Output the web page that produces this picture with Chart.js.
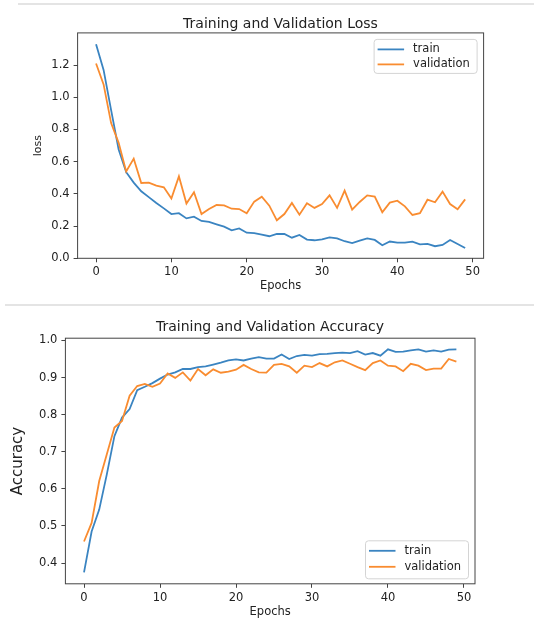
<!DOCTYPE html>
<html>
<head>
<meta charset="utf-8">
<script src="https://cdn.jsdelivr.net/npm/chart.js@4.4.0/dist/chart.umd.min.js"></script>
<style>
  html, body { margin: 0; padding: 0; background: #fff; overflow: hidden; width: 534px; height: 618px; }
  .sep { position: absolute; height: 2px; background: #e4e4e4; right: 0; }
  canvas { position: absolute; left: 0; }
</style>
</head>
<body>
<div class="sep" style="top:3px;left:18px"></div>
<div class="sep" style="top:304px;left:5px"></div>
<canvas id="loss" width="561" height="300" style="top:0"></canvas>
<canvas id="acc" width="540" height="330" style="top:300px"></canvas>
<script>
const epochs = [0,1,2,3,4,5,6,7,8,9,10,11,12,13,14,15,16,17,18,19,20,21,22,23,24,
  25,26,27,28,29,30,31,32,33,34,35,36,37,38,39,40,41,42,43,44,45,46,47,48,49];

const trainLoss = [1.33,1.17,0.92,0.675,0.535,0.47,0.416,0.38,0.344,0.31,0.275,0.28,0.248,0.259,0.232,
  0.226,0.211,0.197,0.174,0.186,0.159,0.157,0.147,0.137,0.151,0.151,0.128,0.145,0.116,0.112,
  0.118,0.13,0.124,0.106,0.095,0.11,0.124,0.114,0.081,0.104,0.097,0.097,0.104,0.087,0.089,
  0.075,0.083,0.114,0.089,0.064];
const valLoss = [1.21,1.08,0.84,0.717,0.54,0.619,0.468,0.47,0.451,0.441,0.371,0.509,0.34,0.41,0.275,
  0.306,0.331,0.329,0.308,0.306,0.28,0.352,0.383,0.327,0.236,0.275,0.344,0.271,0.342,0.313,
  0.337,0.391,0.313,0.42,0.302,0.35,0.391,0.383,0.286,0.346,0.358,0.323,0.269,0.28,0.364,
  0.348,0.414,0.337,0.304,0.366];

const trainAcc = [0.375,0.485,0.544,0.639,0.742,0.792,0.815,0.866,0.875,0.885,0.897,0.908,0.914,0.923,0.923,
  0.928,0.93,0.935,0.94,0.946,0.949,0.946,0.951,0.955,0.951,0.951,0.962,0.95,0.958,0.961,
  0.959,0.963,0.964,0.966,0.967,0.966,0.971,0.962,0.966,0.959,0.976,0.969,0.97,0.973,0.976,
  0.97,0.973,0.97,0.975,0.976];
const valAcc = [0.458,0.508,0.621,0.693,0.765,0.783,0.851,0.877,0.883,0.875,0.884,0.911,0.899,0.914,0.892,
  0.923,0.906,0.922,0.913,0.916,0.921,0.934,0.923,0.914,0.913,0.934,0.937,0.93,0.913,0.932,
  0.928,0.939,0.93,0.941,0.946,0.937,0.928,0.92,0.939,0.946,0.932,0.93,0.917,0.937,0.932,
  0.92,0.924,0.924,0.95,0.943];

const xTicks = [0, 10, 20, 30, 40, 50];
const lossTicks = [0.0, 0.2, 0.4, 0.6, 0.8, 1.0, 1.2];
const accTicks = [0.4, 0.5, 0.6, 0.7, 0.8, 0.9, 1.0];
const seriesNames = ['train', 'validation'];

const BLUE = '#3a84c1';
const ORANGE = '#f98c30';
const TXT = '#222';
const SPINE = '#444';
const FONT = "'DejaVu Sans', sans-serif";
const LW = 1.8;

const pts = arr => arr.map((v, i) => ({ x: epochs[i], y: v }));

// full box round the plot area, like matplotlib spines
const frame = {
  id: 'frame',
  afterDatasetsDraw(chart) {
    const { ctx, chartArea: a } = chart;
    ctx.save();
    ctx.strokeStyle = SPINE;
    ctx.lineWidth = 1;
    ctx.strokeRect(a.left, a.top, a.right - a.left, a.bottom - a.top);
    ctx.restore();
  }
};

// matplotlib style legend box drawn inside the axes
const boxLegend = {
  id: 'boxLegend',
  afterDraw(chart, args, opts) {
    const { ctx, chartArea: a } = chart;
    const w = 103, h = opts.h;
    const x = a.right - 6.5 - w;
    const y = opts.corner === 'bottom' ? a.bottom - 5 - h : a.top + 6.5;
    ctx.save();
    ctx.beginPath();
    ctx.roundRect(x, y, w, h, 3);
    ctx.fillStyle = 'rgba(255,255,255,0.85)';
    ctx.fill();
    ctx.strokeStyle = '#d4d4d4';
    ctx.lineWidth = 1;
    ctx.stroke();
    ctx.font = '11.5px ' + FONT;
    ctx.textBaseline = 'middle';
    chart.data.datasets.forEach((ds, i) => {
      const ry = y + 10 + i * opts.gap;
      ctx.strokeStyle = ds.borderColor;
      ctx.lineWidth = LW;
      ctx.beginPath();
      ctx.moveTo(x + 3.5, ry);
      ctx.lineTo(x + 30, ry);
      ctx.stroke();
      ctx.fillStyle = TXT;
      ctx.fillText(ds.label, x + 39, ry);
    });
    ctx.restore();
  }
};

function makeChart(id, cfg) {
  return new Chart(document.getElementById(id), {
    type: 'line',
    data: {
      datasets: [
        { label: seriesNames[0], data: pts(cfg.train), borderColor: BLUE, backgroundColor: BLUE,
          borderWidth: LW, pointRadius: 0, tension: 0, order: 1 },
        { label: seriesNames[1], data: pts(cfg.val), borderColor: ORANGE, backgroundColor: ORANGE,
          borderWidth: LW, pointRadius: 0, tension: 0, order: 0 }
      ]
    },
    options: {
      responsive: false,
      animation: false,
      layout: { padding: 0 },
      plugins: {
        legend: { display: false },
        tooltip: { enabled: false },
        title: {
          display: true,
          text: cfg.title,
          color: TXT,
          font: { family: FONT, size: 14, weight: 'normal' },
          padding: cfg.titlePad
        },
        boxLegend: cfg.legend
      },
      scales: {
        x: {
          type: 'linear',
          min: -2.45,
          max: 51.45,
          afterBuildTicks: s => { s.ticks = xTicks.map(v => ({ value: v })); },
          afterFit: s => { s.height = cfg.xHeight; },
          grid: { display: true, drawOnChartArea: false, drawTicks: true, tickLength: 4, color: SPINE },
          border: { display: false },
          ticks: { color: TXT, font: { family: FONT, size: 11.5 }, padding: 3, maxRotation: 0,
                   callback: v => String(v) },
          title: { display: true, text: 'Epochs', color: TXT,
                   font: { family: FONT, size: 11.5 }, padding: { top: 0, bottom: cfg.xTitlePad } }
        },
        y: {
          min: cfg.yMin,
          max: cfg.yMax,
          afterBuildTicks: s => { s.ticks = cfg.yTicks.map(v => ({ value: v })); },
          afterFit: s => { s.width = cfg.yWidth; },
          grid: { display: true, drawOnChartArea: false, drawTicks: true, tickLength: 4, color: SPINE },
          border: { display: false },
          ticks: { color: TXT, font: { family: FONT, size: 11.5 }, padding: 4,
                   callback: v => v.toFixed(1) },
          title: { display: true, text: cfg.yTitle, color: TXT,
                   font: { family: FONT, size: cfg.yTitleSize }, padding: { top: cfg.yTitlePad, bottom: 0 } }
        },
        // empty right axis, only keeps the title centred over the plot area
        pad: {
          position: 'right',
          display: true,
          grid: { display: false },
          border: { display: false },
          ticks: { display: false },
          afterFit: s => { s.width = cfg.rightPad; }
        }
      }
    },
    plugins: [frame, boxLegend]
  });
}

makeChart('loss', {
  title: 'Training and Validation Loss',
  train: trainLoss, val: valLoss,
  yTicks: lossTicks, yMin: 0, yMax: 1.40,
  yTitle: 'loss', yTitleSize: 11, yTitlePad: 31.4,
  yWidth: 77.6, rightPad: 77.4, xHeight: 41.7, xTitlePad: 7,
  titlePad: { top: 15.6, bottom: 0.5 },
  legend: { corner: 'top', h: 34, gap: 15 }
});

makeChart('acc', {
  title: 'Training and Validation Accuracy',
  train: trainAcc, val: valAcc,
  yTicks: accTicks, yMin: 0.344, yMax: 1.006,
  yTitle: 'Accuracy', yTitleSize: 15, yTitlePad: 9,
  yWidth: 65.4, rightPad: 65, xHeight: 46.2, xTitlePad: 11,
  titlePad: { top: 18.6, bottom: 2.8 },
  legend: { corner: 'bottom', h: 38, gap: 16 }
});
</script>
</body>
</html>
